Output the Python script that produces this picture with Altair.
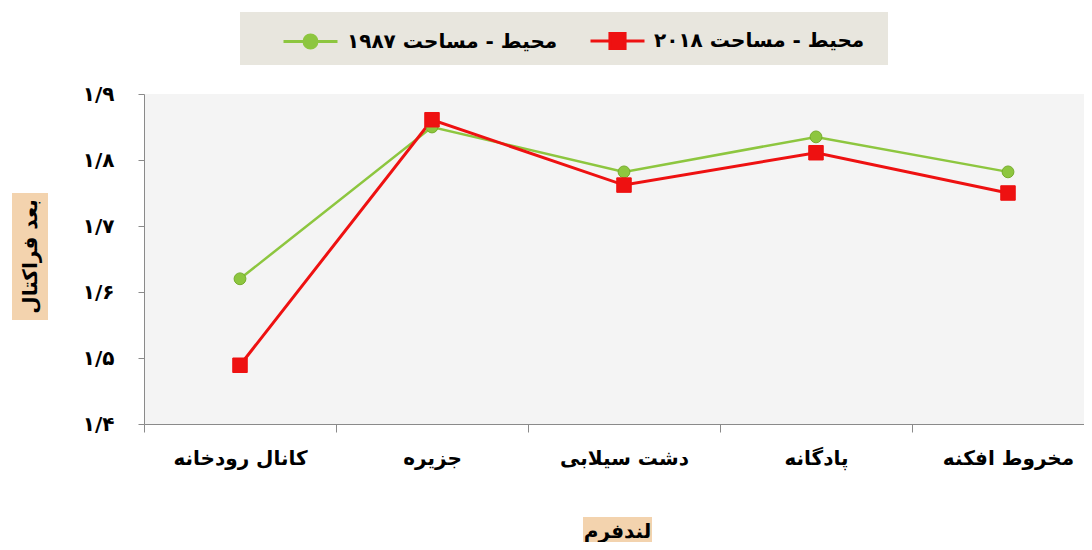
import altair as alt
import pandas as pd

# ---- data ----
landforms = ["کانال رودخانه", "جزیره", "دشت سیلابی", "پادگانه", "مخروط افکنه"]
series_names = ["محیط - مساحت ۱۹۸۷", "محیط - مساحت ۲۰۱۸"]
values_1987 = [1.620, 1.850, 1.782, 1.835, 1.782]
values_2018 = [1.489, 1.861, 1.762, 1.811, 1.750]
y_ticks = [1.4, 1.5, 1.6, 1.7, 1.8, 1.9]
y_tick_labels = ["۱/۴", "۱/۵", "۱/۶", "۱/۷", "۱/۸", "۱/۹"]
x_title = "لندفرم"
y_title = "بعد فراکتال"

# ---- styling ----
colors = ["#8dc63f", "#ee1111"]
marker_strokes = ["#76ad2c", "#ee1111"]
marker_shapes = ["circle", "square"]
marker_sizes = [140, 210]
line_widths = [2.5, 3]
legend_paths = [
    "M-1,0H-0.24A0.24,0.24 0 1,1 0.24,0A0.24,0.24 0 1,1 -0.24,0M0.24,0H1",
    "M-1,0H-0.28M-0.28,-0.28H0.28V0.28H-0.28ZM0.28,0H1",
]
FONT = "DejaVu Sans"
TAN = "#f3d3ae"
LEGEND_BG = "#e8e6de"

rows = []
for name, vals in zip(series_names, [values_1987, values_2018]):
    for lf, v in zip(landforms, vals):
        rows.append({"landform": lf, "value": v, "series": name})
df = pd.DataFrame(rows)

label_expr = "[" + ",".join(f"'{s}'" for s in y_tick_labels) + "][round((datum.value-1.4)*10)]"

x_enc = alt.X(
    "landform:N",
    sort=landforms,
    scale=alt.Scale(domain=landforms, range=[0, 960], paddingInner=0, paddingOuter=0),
    axis=alt.Axis(
        title=x_title, labelAngle=0, labelFont=FONT, labelFontSize=20, labelFontWeight="bold",
        labelColor="black", labelLimit=0, tickBand="extent", tickSize=8, labelPadding=16,
        domainColor="#8a8a8a", tickColor="#8a8a8a", titleFont=FONT, titleFontSize=20,
        titleFontWeight="bold", titleColor="black", titleX=473, titleY=107,
        titleAlign="center", titleBaseline="middle", zindex=1,
    ),
)
y_enc = alt.Y(
    "value:Q",
    scale=alt.Scale(domain=[1.4, 1.9], nice=False, zero=False),
    axis=alt.Axis(
        title=y_title, values=y_ticks, labelExpr=label_expr, labelFont=FONT, labelFontSize=20,
        labelFontWeight="bold", labelColor="black", tickSize=6, labelPadding=24,
        domainColor="#8a8a8a", tickColor="#8a8a8a", titleFont=FONT, titleFontSize=20,
        titleFontWeight="bold", titleColor="black", titleAngle=270, titleX=-114, titleY=162,
        titleAlign="center", titleBaseline="middle", zindex=1,
    ),
)

one = alt.Data(values=[{"a": 0}])
bg_legend = alt.Chart(one).mark_rect(color=LEGEND_BG).encode(
    x=alt.value(96), x2=alt.value(744), y=alt.value(-82), y2=alt.value(-29)
)
bg_y = alt.Chart(one).mark_rect(color=TAN).encode(
    x=alt.value(-132), x2=alt.value(-96), y=alt.value(99), y2=alt.value(226)
)
bg_x = alt.Chart(one).mark_rect(color=TAN).encode(
    x=alt.value(439), x2=alt.value(508), y=alt.value(423), y2=alt.value(458)
)

layers = [bg_legend, bg_y, bg_x]
for i, name in enumerate(series_names):
    base = alt.Chart(df).transform_filter(alt.datum.series == name)
    layers.append(
        base.mark_line(color=colors[i], strokeWidth=line_widths[i]).encode(x=x_enc, y=y_enc)
    )
for i, name in enumerate(series_names):
    base = alt.Chart(df).transform_filter(alt.datum.series == name)
    layers.append(
        base.mark_point(
            shape=marker_shapes[i], size=marker_sizes[i], filled=True, fill=colors[i],
            stroke=marker_strokes[i], strokeWidth=1, opacity=1,
        ).encode(x=x_enc, y=y_enc)
    )

leg = alt.Legend(
    title=None, orient="none", legendX=138, legendY=-82, direction="horizontal",
    padding=0, symbolSize=2916, symbolStrokeWidth=3, symbolOpacity=1,
    labelFont=FONT, labelFontSize=20, labelFontWeight="bold", labelColor="black",
    labelLimit=0, labelOffset=8, columnPadding=26,
)
legend_layer = alt.Chart(df).transform_filter("false").mark_point(strokeWidth=3).encode(
    x=x_enc,
    y=y_enc,
    fill=alt.Fill("series:N", scale=alt.Scale(domain=series_names, range=colors), legend=leg),
    stroke=alt.Stroke("series:N", scale=alt.Scale(domain=series_names, range=colors), legend=leg),
    shape=alt.Shape("series:N", scale=alt.Scale(domain=series_names, range=legend_paths), legend=leg),
)
layers.append(legend_layer)

chart = (
    alt.layer(*layers)
    .properties(
        width=940, height=330,
        autosize=alt.AutoSizeParams(type="none"),
        padding={"left": 136, "top": 86, "right": 0, "bottom": 118},
        background="white",
    )
    .configure_axis(grid=False)
    .configure_view(fill="#f4f4f4", stroke=None)
)

chart.save("out.html", embed_options={"renderer": "svg", "actions": False})
